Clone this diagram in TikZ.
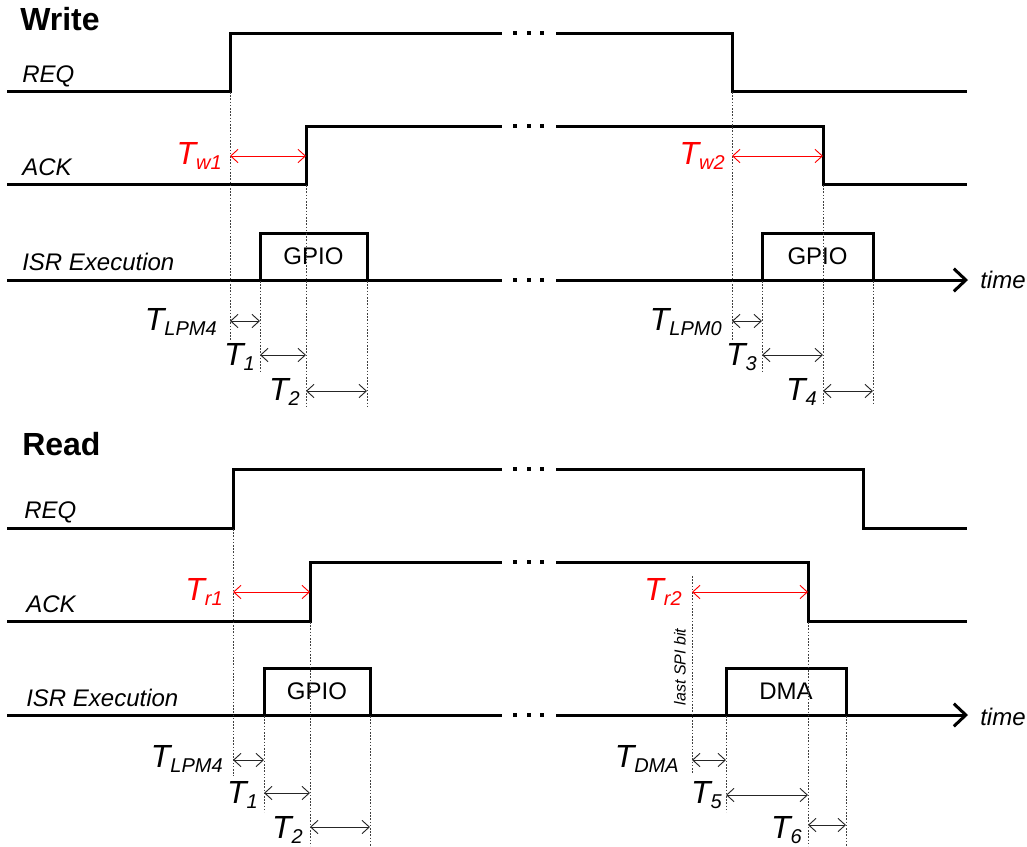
\documentclass[tikz,border=0pt]{standalone}
\usepackage{fontspec}
\setmainfont{Liberation Sans}
\usetikzlibrary{arrows.meta}
\newcommand\Tlab[1]{{\fontsize{24}{24}\selectfont\itshape T\raisebox{-3.75pt}{\fontsize{15}{15}\selectfont #1}}}
\tikzset{
  sig/.style={line width=2.25pt, line join=miter},
  guide/.style={line width=0.7pt, black!75, dash pattern=on 1.2pt off 1.2pt},
  dim/.style={line width=0.7pt, black!85, {Straight Barb[length=5.5pt,width=10pt]}-{Straight Barb[length=5.5pt,width=10pt]}},
  rdim/.style={dim, red},
  lab/.style={font=\fontsize{18}{18}\selectfont\itshape, anchor=base west, inner sep=0pt},
  ttl/.style={font=\fontsize{24}{24}\selectfont\bfseries, anchor=base west, inner sep=0pt},
  tl/.style={anchor=base east, inner sep=0pt},
  boxtxt/.style={font=\fontsize{18}{18}\selectfont, inner sep=0pt},
  axis/.style={sig, -{Straight Barb[length=9pt,width=17pt]}},
}
\begin{document}
\begin{tikzpicture}[x=0.75pt,y=-0.75pt]
\useasboundingbox (0,0) rectangle (1027,846);
% ================= WRITE =================
\node[ttl] (wtitle) at (20,31) {Write};
\node[lab] (wreq) at (22,82) {REQ};
\node[lab] (wack) at (22,175) {ACK};
\node[lab] (wisr) at (22,270) {ISR Execution};
% signals
\draw[sig] (7,91) -- (230,91) -- (230,33) -- (502,33);
\draw[sig] (556,33) -- (732,33) -- (732,91) -- (967,91);
\draw[sig] (7,184) -- (306,184) -- (306,126) -- (502,126);
\draw[sig] (556,126) -- (823,126) -- (823,184) -- (967,184);
\draw[sig] (7,280) -- (502,280);
\draw[axis] (556,280) -- (968,280);
\node[lab] (wtime) at (980,288) {time};
\draw[sig] (260,280) |- (367,233) -- (367,280);
\draw[sig] (762,280) |- (873,233) -- (873,280);
\node[boxtxt] (wg1) at (313.5,256.5) {GPIO};
\node[boxtxt] (wg2) at (817.5,256.5) {GPIO};
% dots
\foreach \y in {33,126,280}{
  \foreach \x in {515,529,542}{\fill (\x-2,\y-2) rectangle (\x+2,\y+2);}
}
% guides
\draw[guide] (230,92) -- (230,340);
\draw[guide] (260,281) -- (260,373);
\draw[guide] (306,185) -- (306,406);
\draw[guide] (367,281) -- (367,406);
\draw[guide] (732,92) -- (732,340);
\draw[guide] (762,281) -- (762,373);
\draw[guide] (823,185) -- (823,404);
\draw[guide] (873,281) -- (873,404);
% dimensions
\coordinate (a1) at (230,156); \coordinate (b1) at (306,156);
\draw[rdim] (a1) -- (b1);
\coordinate (a2) at (230,321); \coordinate (b2) at (260,321);
\draw[dim] (a2) -- (b2);
\coordinate (a3) at (260,355); \coordinate (b3) at (306,355);
\draw[dim] (a3) -- (b3);
\coordinate (a4) at (306,391); \coordinate (b4) at (367,391);
\draw[dim] (a4) -- (b4);
\coordinate (a5) at (732,156); \coordinate (b5) at (823,156);
\draw[rdim] (a5) -- (b5);
\coordinate (a6) at (732,321); \coordinate (b6) at (762,321);
\draw[dim] (a6) -- (b6);
\coordinate (a7) at (762,355); \coordinate (b7) at (823,355);
\draw[dim] (a7) -- (b7);
\coordinate (a8) at (823,391); \coordinate (b8) at (873,391);
\draw[dim] (a8) -- (b8);
% T labels
\node[tl, text=red] (tw1) at (222,164) {\Tlab{w1}};
\node[tl] (tlpm4w) at (217,330) {\Tlab{LPM4}};
\node[tl] (t1w) at (255,365) {\Tlab{1}};
\node[tl] (t2w) at (300,400) {\Tlab{2}};
\node[tl, text=red] (tw2) at (725,164) {\Tlab{w2}};
\node[tl] (tlpm0) at (722,330) {\Tlab{LPM0}};
\node[tl] (t3) at (757,365) {\Tlab{3}};
\node[tl] (t4) at (817,400) {\Tlab{4}};
% ================= READ =================
\node[ttl] (rtitle) at (22,455) {Read};
\node[lab] (rreq) at (24,518) {REQ};
\node[lab] (rack) at (26,612) {ACK};
\node[lab] (risr) at (26,706) {ISR Execution};
\draw[sig] (7,528) -- (233,528) -- (233,469) -- (502,469);
\draw[sig] (556,469) -- (863,469) -- (863,528) -- (967,528);
\draw[sig] (7,621) -- (310,621) -- (310,562) -- (502,562);
\draw[sig] (556,562) -- (808,562) -- (808,621) -- (967,621);
\draw[sig] (7,715) -- (502,715);
\draw[axis] (556,715) -- (968,715);
\node[lab] (rtime) at (980,725) {time};
\draw[sig] (264,715) |- (370,668) -- (370,715);
\draw[sig] (726,715) |- (846,668) -- (846,715);
\node[boxtxt] (rg1) at (317,691.5) {GPIO};
\node[boxtxt] (rdma) at (786,691.5) {DMA};
\foreach \y in {469,562,715}{
  \foreach \x in {515,529,542}{\fill (\x-2,\y-2) rectangle (\x+2,\y+2);}
}
\draw[guide] (233,529) -- (233,776);
\draw[guide] (264,716) -- (264,812);
\draw[guide] (310,622) -- (310,846);
\draw[guide] (370,716) -- (370,846);
\draw[guide] (692,576) -- (692,773);
\draw[guide] (726,716) -- (726,812);
\draw[guide] (808,622) -- (808,846);
\draw[guide] (846,716) -- (846,846);
\node[font=\fontsize{12}{12}\selectfont\itshape, rotate=90, inner sep=0pt] (spi) at (680,667) {last SPI bit};
\coordinate (c1) at (233,592); \coordinate (d1) at (310,592);
\draw[rdim] (c1) -- (d1);
\coordinate (c2) at (233,760); \coordinate (d2) at (264,760);
\draw[dim] (c2) -- (d2);
\coordinate (c3) at (264,793); \coordinate (d3) at (310,793);
\draw[dim] (c3) -- (d3);
\coordinate (c4) at (310,827); \coordinate (d4) at (370,827);
\draw[dim] (c4) -- (d4);
\coordinate (c5) at (692,592); \coordinate (d5) at (808,592);
\draw[rdim] (c5) -- (d5);
\coordinate (c6) at (692,760); \coordinate (d6) at (726,760);
\draw[dim] (c6) -- (d6);
\coordinate (c7) at (726,795); \coordinate (d7) at (808,795);
\draw[dim] (c7) -- (d7);
\coordinate (c8) at (808,825); \coordinate (d8) at (846,825);
\draw[dim] (c8) -- (d8);
\node[tl, text=red] (tr1) at (223,600) {\Tlab{r1}};
\node[tl] (tlpm4r) at (223,767) {\Tlab{LPM4}};
\node[tl] (t1r) at (258,803) {\Tlab{1}};
\node[tl] (t2r) at (303,838) {\Tlab{2}};
\node[tl, text=red] (tr2) at (682,600) {\Tlab{r2}};
\node[tl] (tdma) at (679,767) {\Tlab{DMA}};
\node[tl] (t5) at (722,803) {\Tlab{5}};
\node[tl] (t6) at (802,838) {\Tlab{6}};
\end{tikzpicture}
\end{document}
